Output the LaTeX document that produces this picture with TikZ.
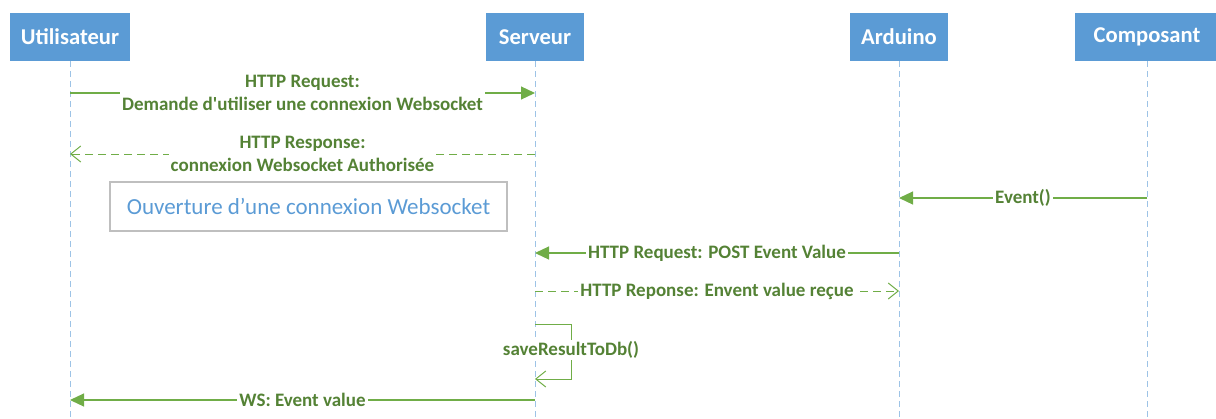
\documentclass[tikz,border=0pt]{standalone}
\usepackage{fontspec}
\setmainfont{Carlito}
\usetikzlibrary{arrows.meta}
\definecolor{hdrblue}{HTML}{5B9BD5}
\definecolor{lifeblue}{HTML}{9DC3E6}
\definecolor{msggreen}{HTML}{70AD47}
\definecolor{txtgreen}{HTML}{548235}
\definecolor{boxgray}{HTML}{BFBFBF}
\tikzset{
  actor/.style={fill=hdrblue, text=white, inner sep=0pt, minimum height=24pt,
    font=\fontsize{11.3}{13}\selectfont\bfseries},
  lifeline/.style={lifeblue, line width=0.5pt, dash pattern=on 3pt off 2pt},
  msg/.style={msggreen, line width=0.6pt, -{Triangle[length=7pt,width=6.5pt]}},
  reply/.style={msggreen, line width=0.5pt, dash pattern=on 4pt off 2.5pt,
    -{Straight Barb[length=5pt,width=8pt]}},
  lbl/.style={fill=white, text=txtgreen, inner sep=1pt, align=center,
    font=\fontsize{9.5}{11.5}\selectfont\bfseries},
}
\begin{document}
\begin{tikzpicture}[x=0.5pt,y=-0.5pt]
  \useasboundingbox (0,0) rectangle (1216,418);
  % participants
  \node[actor, minimum width=60pt] (user) at (70,37) {Utilisateur};
  \node[actor, minimum width=49pt] (server) at (535,37) {Serveur};
  \node[actor, minimum width=49pt] (arduino) at (899,37) {Arduino};
  \node[actor, minimum width=72pt] (comp) at (1147,37) {Composant};
  \foreach \p in {user,server,arduino,comp}{% lifelines down to the bottom
    \draw[lifeline] (\p.south) -- (\p.south |- 0,418);  }

  % websocket handshake
  \draw[msg] (user |- 0,93) -- node[lbl] {HTTP Request:\\Demande d\textquotesingle utiliser une connexion Websocket} (server |- 0,93);
  \draw[reply] (server |- 0,154) -- node[lbl] {HTTP Response:\\connexion Websocket Authorisée} (user |- 0,154);
  \node[draw=boxgray, line width=0.6pt, text=hdrblue, minimum width=198.5pt, minimum height=24.5pt,
    font=\fontsize{11.5}{14}\selectfont] (wsopen) at (308.5,206.5) {Ouverture d’une connexion Websocket};

  % event from the component
  \draw[msg] (comp |- 0,198) -- node[lbl] {Event()} (arduino |- 0,198);
  \draw[msg] (arduino |- 0,253) -- node[lbl] {HTTP Request: POST Event Value} (server |- 0,253);
  \draw[reply] (server |- 0,291) -- node[lbl] {HTTP Reponse: Envent value reçue} (arduino |- 0,291);

  % self call
  \draw[reply, solid] (server |- 0,324) -- (571,324) -- (571,379) -- (server |- 0,379);
  \node[lbl] (save) at (571,350) {saveResultToDb()};

  \draw[msg] (server |- 0,400) -- node[lbl] {WS: Event value} (user |- 0,400);
\end{tikzpicture}
\end{document}
